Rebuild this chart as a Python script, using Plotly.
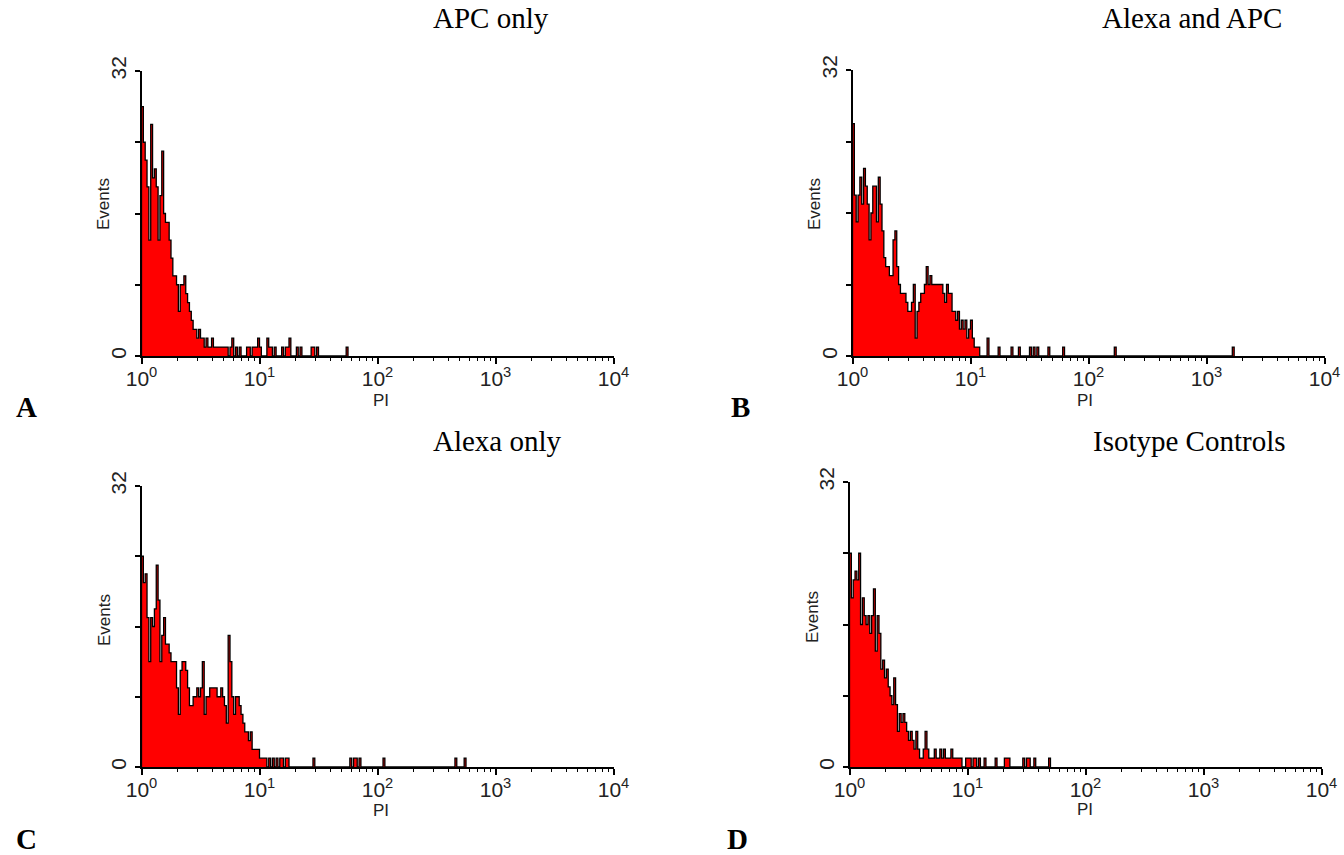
import numpy as np
import plotly.graph_objects as go

# ---------------- data (counts per channel, 256 log channels over 4 decades) ----------------
N_CHANNELS = 256
DECADES = 4

panel_titles = ["APC only", "Alexa and APC", "Alexa only", "Isotype Controls"]
panel_letters = ["A", "B", "C", "D"]
x_tick_values = [1, 10, 100, 1000, 10000]
x_tick_labels = ["10<sup>0</sup>", "10<sup>1</sup>", "10<sup>2</sup>", "10<sup>3</sup>", "10<sup>4</sup>"]
y_tick_values = [0, 8, 16, 24, 32]
y_tick_labels = ["0", "", "", "", "32"]
x_label = "PI"
y_label = "Events"

apc_only_body = [28, 24, 22, 19, 13, 26, 20, 21, 19, 13, 18, 23, 16, 15, 15, 13, 11, 9, 9, 8,
                 5, 8, 8, 9, 7, 6, 5, 4, 3, 3, 2, 3, 2, 2, 1, 2, 1, 1, 2, 1,
                 1, 1, 1, 1, 1, 1, 1, 0, 1, 2, 0, 1, 0, 1, 0, 0]
apc_only_tail_bins = [57, 58, 60, 61, 62, 63, 64, 68, 69, 70, 72, 76, 78, 79, 80, 84, 86, 92, 93, 95, 111]
apc_only_tail_counts = [1, 1, 1, 1, 1, 2, 1, 2, 1, 1, 1, 1, 1, 1, 2, 1, 1, 1, 1, 1, 1]

alexa_apc_body = [26, 18, 15, 18, 20, 17, 21, 19, 17, 13, 16, 19, 19, 15, 20, 17, 14, 11, 10, 10,
                  9, 9, 13, 14, 10, 8, 7, 7, 7, 6, 5, 5, 6, 8, 2, 5, 6, 7, 7, 8,
                  10, 8, 9, 8, 8, 8, 8, 8, 8, 7, 6, 8, 7, 7, 5, 5, 4, 5, 3, 4,
                  3, 4, 2, 3, 4, 2, 1, 1, 1, 0, 0, 0, 0, 2]
alexa_apc_tail_bins = [79, 86, 90, 96, 98, 100, 106, 114, 142, 206]
alexa_apc_tail_counts = [1, 1, 1, 1, 1, 1, 1, 1, 1, 1]

alexa_only_body = [24, 21, 22, 17, 12, 17, 16, 18, 23, 19, 12, 15, 17, 14, 14, 13, 12, 12, 12, 9,
                   6, 11, 12, 12, 11, 9, 7, 7, 8, 8, 9, 8, 9, 12, 6, 8, 8, 9, 9, 9,
                   9, 8, 8, 9, 8, 7, 5, 15, 12, 8, 6, 8, 8, 7, 6, 5, 4, 4, 3, 4,
                   2, 2, 2, 2, 1, 1, 1, 1, 0, 1, 0, 1, 0, 1, 0, 1, 1, 0, 1, 1]
alexa_only_tail_bins = [93, 113, 115, 116, 118, 131, 170, 175]
alexa_only_tail_counts = [1, 1, 1, 1, 1, 1, 1, 1]

isotype_body = [24, 19, 21, 22, 21, 24, 16, 19, 17, 16, 17, 15, 17, 20, 13, 17, 15, 11, 12, 10,
                11, 9, 8, 7, 10, 7, 4, 6, 5, 6, 5, 4, 3, 4, 3, 2, 4, 2, 1, 1,
                2, 4, 2, 1, 1, 1, 2, 1, 1, 2, 1, 2, 1, 1, 1, 2, 1, 1, 1, 1,
                1, 0, 0, 1, 1, 1, 0, 1, 1, 0, 1, 0, 0, 1, 0, 0, 0, 0, 0, 1,
                0, 0, 0, 0, 1, 1, 1]
isotype_tail_bins = [94, 96, 97, 100, 108]
isotype_tail_counts = [1, 1, 1, 1, 1]

panel_data = [
    (apc_only_body, apc_only_tail_bins, apc_only_tail_counts),
    (alexa_apc_body, alexa_apc_tail_bins, alexa_apc_tail_counts),
    (alexa_only_body, alexa_only_tail_bins, alexa_only_tail_counts),
    (isotype_body, isotype_tail_bins, isotype_tail_counts),
]

# ---------------- layout geometry (pixels) ----------------
W, H = 1344, 855
panel_x_px = [(141.5, 613.5), (852.5, 1324.5), (141.5, 613.5), (849.5, 1321.5)]
panel_y_px = [(71, 356), (70, 356), (486, 767), (482, 767)]
title_pos = [(491, 18), (1192, 18), (497, 441), (1189, 441)]
letter_pos = [(26, 407), (740, 407), (26, 839), (737, 839)]
ylabel_pos = [(104, 204), (815, 204), (104, 620), (812, 617)]
xlabel_pos = [(381, 400), (1085, 400), (381, 810), (1085, 809)]

SANS = "Liberation Sans Narrow, Arial Narrow, Liberation Sans, Arial, sans-serif"
SERIF = "Liberation Serif, Times New Roman, serif"


def channel_counts(body, tail_bins, tail_counts):
    c = np.zeros(N_CHANNELS)
    c[:len(body)] = body
    c[np.array(tail_bins)] = tail_counts
    return c


def px_x(p):
    return p / W


def px_y(p):
    return 1 - p / H


fig = go.Figure()
minor_vals = [m * 10 ** d for d in range(DECADES) for m in range(2, 10)]

layout = dict(
    template="none",
    width=W, height=H, margin=dict(l=0, r=0, t=0, b=0, pad=0, autoexpand=False),
    paper_bgcolor="white", plot_bgcolor="white", showlegend=False,
)
annotations = []

for i, (body, tb, tc) in enumerate(panel_data):
    counts = channel_counts(body, tb, tc)
    last = int(np.nonzero(counts)[0].max()) + 1
    edges = 10 ** (np.arange(last + 1) * DECADES / N_CHANNELS)
    xs = np.concatenate([[edges[0]], edges])
    ys = np.concatenate([[0], counts[:last], [0]])
    suffix = "" if i == 0 else str(i + 1)
    fig.add_trace(go.Scatter(
        x=xs, y=ys, mode="lines", line=dict(color="black", width=1.3, shape="hv"),
        fill="tozeroy", fillcolor="#ff0000", xaxis="x" + suffix, yaxis="y" + suffix,
        hoverinfo="skip",
    ))
    x0, x1 = panel_x_px[i]
    ytop, ybot = panel_y_px[i]
    layout["xaxis" + suffix] = dict(
        domain=[px_x(x0), px_x(x1)], anchor="y" + suffix, type="log", range=[0, DECADES],
        automargin=False,
        showgrid=False, zeroline=False, showline=True, linecolor="black", linewidth=2,
        ticks="outside", ticklen=6, tickwidth=1.5, tickcolor="black",
        tickvals=x_tick_values, ticktext=x_tick_labels, ticklabelstandoff=-3,
        tickfont=dict(family=SANS, size=21, color="#222"),
        minor=dict(tickvals=minor_vals, ticks="outside", ticklen=3, tickwidth=1, tickcolor="black",
                   showgrid=False),
        fixedrange=True,
    )
    layout["yaxis" + suffix] = dict(
        domain=[px_y(ybot), px_y(ytop)], anchor="x" + suffix, range=[0, 32],
        automargin=False,
        showgrid=False, zeroline=False, showline=True, linecolor="black", linewidth=2,
        ticks="outside", ticklen=5, tickwidth=1.5, tickcolor="black",
        tickvals=y_tick_values, ticktext=y_tick_labels, tickangle=-90,
        tickfont=dict(family=SANS, size=21, color="#222"),
        fixedrange=True,
    )
    annotations.append(dict(text=panel_titles[i], x=px_x(title_pos[i][0]), y=px_y(title_pos[i][1]),
                            xref="paper", yref="paper", showarrow=False, xanchor="center", yanchor="middle",
                            font=dict(family=SERIF, size=29, color="black")))
    annotations.append(dict(text="<b>" + panel_letters[i] + "</b>", x=px_x(letter_pos[i][0]), y=px_y(letter_pos[i][1]),
                            xref="paper", yref="paper", showarrow=False, xanchor="center", yanchor="middle",
                            font=dict(family=SERIF, size=29, color="black")))
    annotations.append(dict(text=y_label, x=px_x(ylabel_pos[i][0]), y=px_y(ylabel_pos[i][1]),
                            xref="paper", yref="paper", showarrow=False, xanchor="center", yanchor="middle",
                            textangle=-90, font=dict(family=SANS, size=17, color="#222")))
    annotations.append(dict(text=x_label, x=px_x(xlabel_pos[i][0]), y=px_y(xlabel_pos[i][1]),
                            xref="paper", yref="paper", showarrow=False, xanchor="center", yanchor="middle",
                            font=dict(family=SANS, size=17, color="#222")))

layout["annotations"] = annotations
fig.update_layout(**layout)
fig.write_html("out.html")
